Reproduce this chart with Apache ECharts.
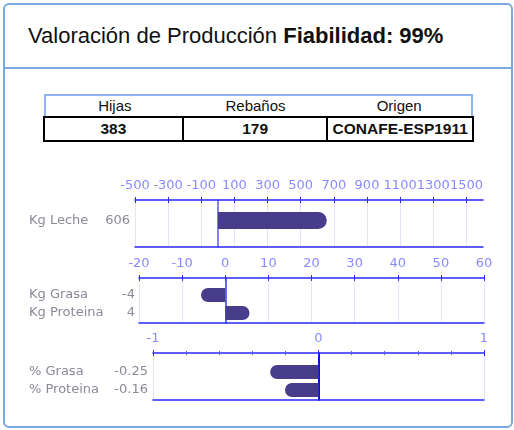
<!DOCTYPE html>
<html lang="es">
<head>
    <meta charset="UTF-8">
    <title>Valoración de Producción</title>
    <script src="https://cdn.jsdelivr.net/npm/echarts@6/dist/echarts.min.js"></script>
    <style>
        body { margin: 0; width: 514px; height: 430px; background: #fff; position: relative; overflow: hidden;
               font-family: "Liberation Sans", Arial, sans-serif; }
        .card { position: absolute; left: 3px; top: 3px; width: 510px; height: 425px; box-sizing: border-box;
                border: 2px solid #7aa8e2; border-radius: 6px; }
        .divider { position: absolute; left: 3px; top: 67px; width: 510px; height: 2px; background: #7aa8e2; }
        .titulo { position: absolute; left: 28px; top: 23px; font-size: 22px; line-height: 26px; color: #111; white-space: nowrap; }
        .cabecera { position: absolute; left: 44px; top: 94px; width: 429px; height: 23px; box-sizing: border-box;
                    border: 2px solid #8db4ee; border-bottom: none; display: flex; }
        .cabecera div { font-size: 15px; line-height: 20px; color: #111; text-align: center; }
        .valores { position: absolute; left: 43px; top: 116px; width: 431px; height: 26px; border-collapse: collapse; }
        .valores td { border: 2px solid #000; padding: 0; font-size: 15.5px; font-weight: bold; color: #111;
                      text-align: center; line-height: 20px; }
        #chart { position: absolute; left: 0; top: 150px; width: 514px; height: 280px; }
    </style>
</head>
<body>
<div class="card"></div>
<div class="divider"></div>
<div class="titulo">Valoración de Producción <b>Fiabilidad: 99%</b></div>
<div class="cabecera" id="cabecera"></div>
<table class="valores"><tr id="valores"></tr></table>
<div id="chart"></div>
<script>
    // datos
    var tablaCabecera = ['Hijas', 'Rebaños', 'Origen'];
    var tablaValores = ['383', '179', 'CONAFE-ESP1911'];
    var anchoColumnas = [139, 145, 145];

    var lecheCats = ['Kg Leche'];
    var lecheVals = [606];
    var lecheTicks = [-500, -300, -100, 100, 300, 500, 700, 900, 1100, 1300, 1500];

    var kgCats = ['Kg Grasa', 'Kg Proteina'];
    var kgVals = [-4, 4];

    var pctCats = ['% Grasa', '% Proteina'];
    var pctVals = [-0.25, -0.16];

    // tabla
    var cab = '', val = '';
    for (var i = 0; i < tablaCabecera.length; i++) {
        cab += '<div style="width:' + anchoColumnas[i] + 'px">' + tablaCabecera[i] + '</div>';
        val += '<td style="width:' + anchoColumnas[i] + 'px">' + tablaValores[i] + '</td>';
    }
    document.getElementById('cabecera').innerHTML = cab;
    document.getElementById('valores').innerHTML = val;

    var azul = '#2a2aff';
    var fuente = 'DejaVu Sans';
    var option = {animation: false, grid: [], xAxis: [], yAxis: [], series: []};

    function addChart(c) {
        var g = option.grid.length;
        var x0 = option.xAxis.length;
        var y0 = option.yAxis.length;
        // marco, marcas interiores, datos
        option.grid.push({left: c.left, width: c.width, top: c.top, height: c.height});
        option.grid.push({left: c.left, width: c.width, top: c.top, height: 4});
        option.grid.push({left: c.left, width: c.width, top: c.dataTop, height: c.dataHeight});

        var tick = {show: true, length: 3, lineStyle: {color: azul, width: 1}};
        if (c.ticks) tick.customValues = c.ticks;
        var label = {color: '#8a8aff', fontSize: 13, fontFamily: fuente, margin: 8, hideOverlap: false,
                     formatter: function (v) { return String(v); }};
        if (c.ticks) label.customValues = c.ticks;
        var minor = {show: !!c.minor, splitNumber: 5, length: 2, lineStyle: {color: '#5555ff', width: 1}};

        option.xAxis.push({
            gridIndex: g, type: 'value', position: 'top', min: c.min, max: c.max, interval: c.interval,
            axisLine: {show: true, onZero: false, lineStyle: {color: azul, width: 1.5}},
            axisTick: tick, axisLabel: label, minorTick: minor,
            splitLine: {show: true, lineStyle: {color: '#e3e3ff', width: 1}}
        });
        option.xAxis.push({
            gridIndex: g, type: 'value', position: 'bottom', min: c.min, max: c.max, interval: c.interval,
            axisLine: {show: true, onZero: false, lineStyle: {color: azul, width: 1.5}},
            axisTick: {show: false}, axisLabel: {show: false}, splitLine: {show: false}
        });
        var tickIn = {show: true, inside: true, length: 3, lineStyle: {color: azul, width: 1}};
        if (c.ticks) tickIn.customValues = c.ticks;
        option.xAxis.push({
            gridIndex: g + 1, type: 'value', position: 'top', min: c.min, max: c.max, interval: c.interval,
            axisLine: {show: false, onZero: false}, axisTick: tickIn, axisLabel: {show: false},
            minorTick: minor, splitLine: {show: false}
        });
        option.xAxis.push({gridIndex: g + 2, type: 'value', show: false, min: c.min, max: c.max, interval: c.interval});

        // linea del cero
        option.yAxis.push({
            gridIndex: g, type: 'value', min: 0, max: 1,
            axisLine: {show: true, onZero: true, lineStyle: c.zero},
            axisTick: {show: false}, axisLabel: {show: false}, splitLine: {show: false}
        });
        option.yAxis.push({gridIndex: g + 1, type: 'value', min: 0, max: 1, show: false});
        option.yAxis.push({
            gridIndex: g + 2, type: 'category', data: c.cats, inverse: true,
            axisLine: {show: false}, axisTick: {show: false}, splitLine: {show: false},
            axisLabel: {
                margin: c.labelMargin,
                formatter: function (v, idx) { return '{n|' + v + '}{v|' + c.vals[idx] + '}'; },
                rich: {
                    n: {width: c.nameWidth, align: 'left', color: '#8a8a98', fontSize: 13, fontFamily: fuente},
                    v: {width: 45, align: 'right', color: '#8a8a98', fontSize: 13, fontFamily: fuente}
                }
            }
        });

        option.series.push({
            type: 'bar', xAxisIndex: x0 + 3, yAxisIndex: y0 + 2, data: c.vals,
            barWidth: c.barWidth, itemStyle: {color: '#483d8b'}, silent: true
        });
        option.series.push({
            type: 'scatter', xAxisIndex: x0 + 3, yAxisIndex: y0 + 2, symbol: 'circle', symbolSize: c.barWidth,
            data: c.vals.map(function (v, idx) { return [v, c.cats[idx]]; }),
            itemStyle: {color: '#483d8b', opacity: 1}, silent: true
        });
    }

    addChart({
        cats: lecheCats, vals: lecheVals, ticks: lecheTicks, min: -500, max: 1600, interval: 200,
        left: 135, width: 348, top: 50, height: 47, dataTop: 61, dataHeight: 19,
        barWidth: 17, labelMargin: 5, nameWidth: 56,
        zero: {color: '#5a5aff', width: 1.5}
    });
    addChart({
        cats: kgCats, vals: kgVals, min: -20, max: 60, interval: 10,
        left: 139, width: 345, top: 128, height: 45, dataTop: 136, dataHeight: 36,
        barWidth: 14, labelMargin: 4, nameWidth: 61,
        zero: {color: '#3838ff', width: 1.5}
    });
    addChart({
        cats: pctCats, vals: pctVals, min: -1, max: 1, interval: 1, minor: true,
        left: 153, width: 331, top: 203, height: 47, dataTop: 213, dataHeight: 36,
        barWidth: 14, labelMargin: 5, nameWidth: 74,
        zero: {color: '#1010ee', width: 2}
    });

    var chart = echarts.init(document.getElementById('chart'));
    chart.setOption(option);
</script>
</body>
</html>
